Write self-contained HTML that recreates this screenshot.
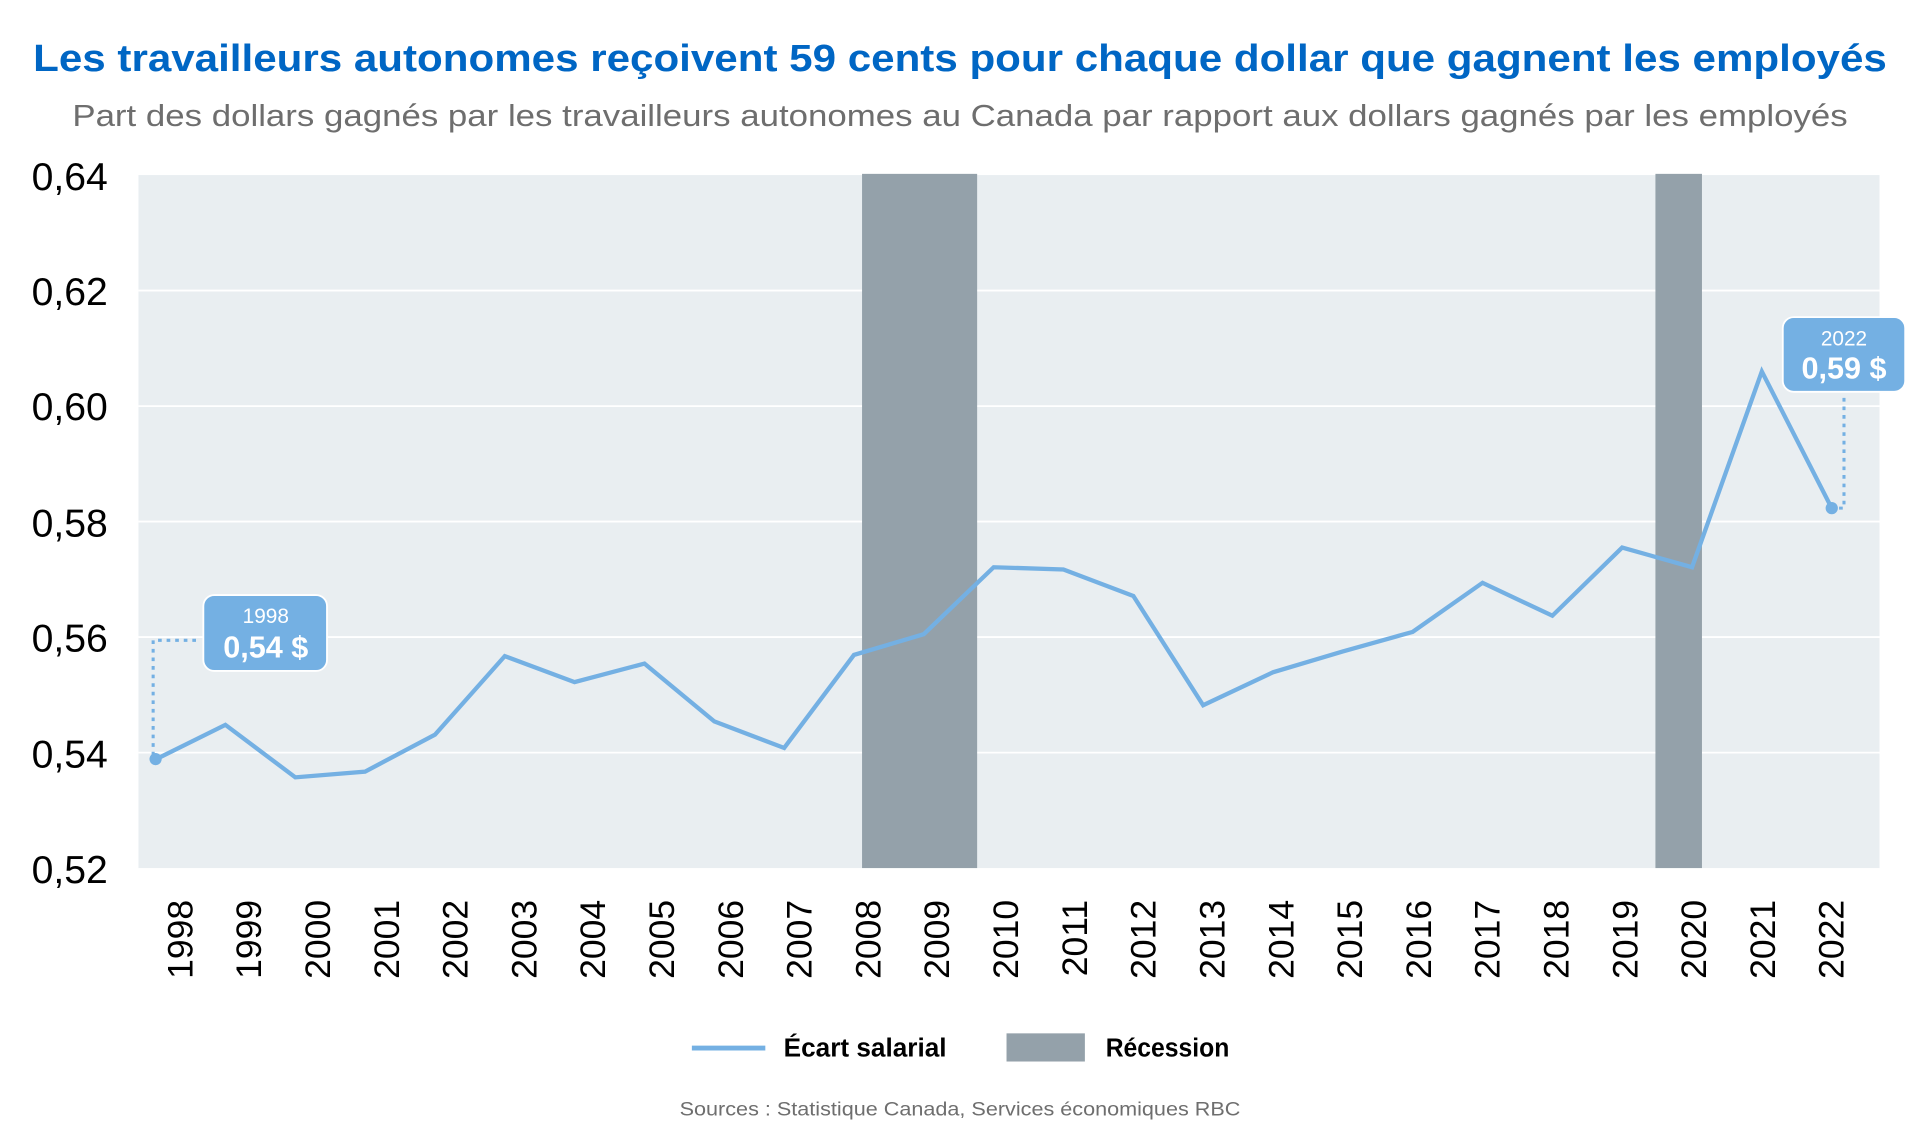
<!DOCTYPE html>
<html><head><meta charset="utf-8"><style>
html,body{margin:0;padding:0;background:#fff;}
svg{display:block;}
text{font-family:"Liberation Sans",sans-serif;}
</style></head><body>
<svg width="1920" height="1146" viewBox="0 0 1568 936" xmlns="http://www.w3.org/2000/svg">
<rect width="1568" height="936" fill="#fff"/>
<text x="784" y="58" text-anchor="middle" font-size="31" font-weight="bold" fill="#0066c4" textLength="1514" lengthAdjust="spacingAndGlyphs">Les travailleurs autonomes reçoivent 59 cents pour chaque dollar que gagnent les employés</text>
<text x="784" y="103" text-anchor="middle" font-size="25" fill="#6e6e6e" textLength="1450" lengthAdjust="spacingAndGlyphs">Part des dollars gagnés par les travailleurs autonomes au Canada par rapport aux dollars gagnés par les employés</text>
<rect x="113" y="143" width="1422" height="566" fill="#e9eef1"/>
<g stroke="#fff" stroke-width="1.5">
<line x1="113" x2="1535" y1="237.3" y2="237.3"/><line x1="113" x2="1535" y1="331.7" y2="331.7"/>
<line x1="113" x2="1535" y1="426" y2="426"/><line x1="113" x2="1535" y1="520.3" y2="520.3"/>
<line x1="113" x2="1535" y1="614.7" y2="614.7"/>
</g>
<rect x="704" y="142" width="94" height="567" fill="#94a1aa"/>
<rect x="1352" y="142" width="38" height="567" fill="#94a1aa"/>
<g font-size="32" fill="#000" text-anchor="end">
<text x="88" y="155">0,64</text><text x="88" y="249">0,62</text><text x="88" y="343">0,60</text>
<text x="88" y="438">0,58</text><text x="88" y="532">0,56</text><text x="88" y="627">0,54</text><text x="88" y="721">0,52</text>
</g>
<g font-size="29" fill="#000" text-anchor="end" id="xl"></g>
<polyline id="ln" fill="none" stroke="#74b0e3" stroke-width="3.5" stroke-linejoin="miter"/>
<g stroke="#74b0e3" stroke-width="2.5" stroke-dasharray="3,4" fill="none">
<polyline points="125,617 125,523 162,523"/>
<polyline points="1506,325 1506,415 1500,415"/>
</g>
<circle cx="127" cy="620" r="5" fill="#74b0e3"/>
<circle cx="1496" cy="415" r="5" fill="#74b0e3"/>
<rect x="166" y="486" width="101" height="62" rx="9" fill="#74b0e3" stroke="#fff" stroke-width="1.5"/>
<text x="217" y="509" text-anchor="middle" font-size="17" fill="#fff">1998</text>
<text x="217" y="537" text-anchor="middle" font-size="25" font-weight="bold" fill="#fff">0,54 $</text>
<rect x="1456" y="259" width="100" height="61" rx="9" fill="#74b0e3" stroke="#fff" stroke-width="1.5"/>
<text x="1506" y="282" text-anchor="middle" font-size="17" fill="#fff">2022</text>
<text x="1506" y="309" text-anchor="middle" font-size="25" font-weight="bold" fill="#fff">0,59 $</text>
<line x1="565" x2="625" y1="856" y2="856" stroke="#74b0e3" stroke-width="4"/>
<text x="640" y="863" font-size="21" font-weight="bold" fill="#000" textLength="133" lengthAdjust="spacingAndGlyphs">Écart salarial</text>
<rect x="822" y="844" width="64" height="23" fill="#94a1aa"/>
<text x="903" y="863" font-size="21" font-weight="bold" fill="#000" textLength="101" lengthAdjust="spacingAndGlyphs">Récession</text>
<text x="784" y="911" text-anchor="middle" font-size="16" fill="#6e6e6e" textLength="458" lengthAdjust="spacingAndGlyphs">Sources : Statistique Canada, Services économiques RBC</text>
</svg>
<script>
var v=[0.5388,0.5448,0.5357,0.5367,0.5431,0.5567,0.5522,0.5554,0.5454,0.5408,0.5569,0.5605,0.5721,0.5717,0.5671,0.5482,0.5539,0.5575,0.5609,0.5694,0.5637,0.5755,0.5721,0.6060,0.5823];
var pts=[],g=document.getElementById('xl'),s='';
for(var i=0;i<v.length;i++){var x=127+i*57.04,y=143+(0.64-v[i])/0.02*94.33;pts.push(x.toFixed(1)+','+y.toFixed(1));
var lx=157+i*56.2;
s+='<text transform="translate('+lx.toFixed(1)+',735) rotate(-90)">'+(1998+i)+'</text>';}
g.innerHTML=s;document.getElementById('ln').setAttribute('points',pts.join(' '));
</script>
</body></html>
